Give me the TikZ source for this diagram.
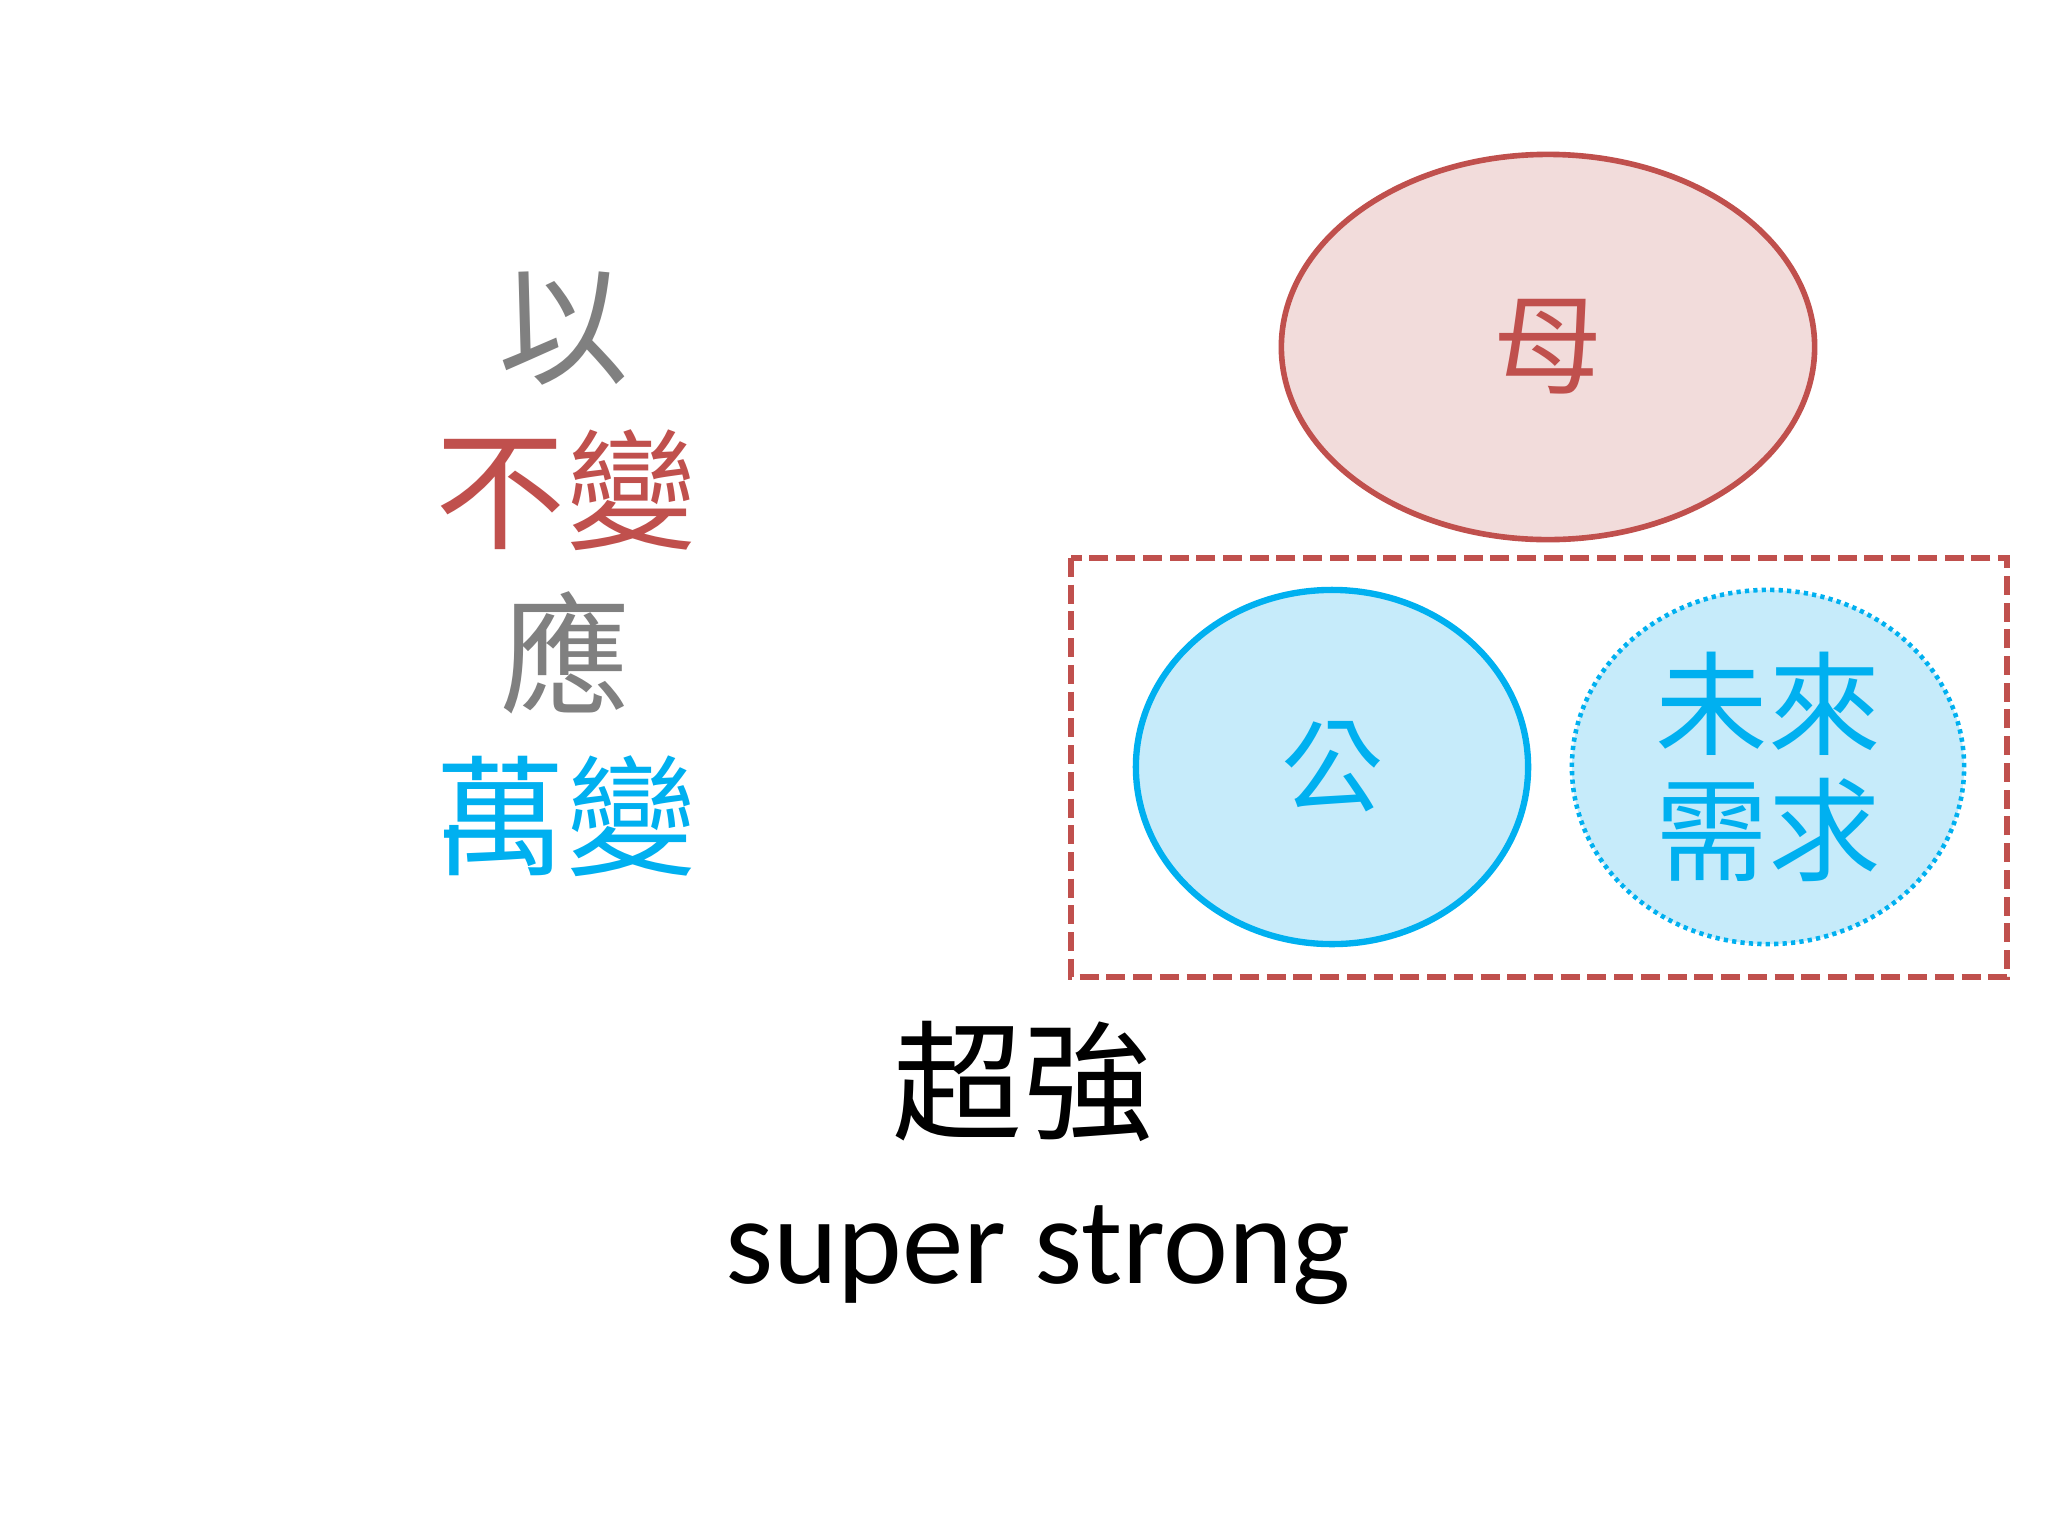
\documentclass[tikz,border=0pt]{standalone}
\usepackage{fontspec}
\setmainfont{Carlito}
\newfontfamily\cjk{Noto Sans CJK TC}
\usetikzlibrary{shapes.geometric}
\definecolor{redline}{HTML}{C0504D}
\definecolor{redfill}{HTML}{F2DCDB}
\definecolor{blueline}{HTML}{00B0F0}
\definecolor{bluefill}{HTML}{C6EBFA}
\definecolor{grey}{HTML}{808080}
\tikzset{
  bigchar/.style={font=\cjk\fontsize{37}{46}\selectfont},
  egg/.style={ellipse, inner sep=0pt, line width=1.6pt},
}
\begin{document}
\begin{tikzpicture}[x=0.01cm,y=-0.01cm]
	\useasboundingbox[fill=white] (0,0) rectangle (2048,1536);
	% left column
	\node[bigchar, grey] (yi) at (564,329) {以};
	\node[bigchar, redline] (bubian) at (566,490) {不變};
	\node[bigchar, grey] (ying) at (566,653) {應};
	\node[bigchar, blueline] (wanbian) at (566,816) {萬變};
	% right side
	\node[egg, draw=redline, fill=redfill, minimum width=5.33cm, minimum height=3.85cm,
	  text=redline, font=\cjk\fontsize{31}{36}\selectfont] (mu) at (1548,347) {母};
	\draw[redline, line width=1.5pt, dash pattern=on 5.4pt off 2.2pt] (1071,558) rectangle (2007,977);
	\node[egg, draw=blueline, fill=bluefill, line width=1.8pt, minimum width=3.92cm, minimum height=3.54cm,
	  text=blueline, font=\cjk\fontsize{29}{36}\selectfont] (gong) at (1332,767) {公};
	\node[egg, draw=blueline, fill=bluefill, line width=1.3pt, dash pattern=on 1.2pt off 1.2pt,
	  minimum width=3.92cm, minimum height=3.54cm] (need) at (1768,767) {};
	\node[text=blueline, font=\cjk\fontsize{32}{36}\selectfont, align=center] (needtxt) at (need) {未來\\需求};
	% bottom
	\node[bigchar] (chao) at (1023,1081) {超強};
	\node[font=\fontsize{35}{40}\selectfont] (super) at (1038,1255) {super strong};
\end{tikzpicture}
\end{document}
